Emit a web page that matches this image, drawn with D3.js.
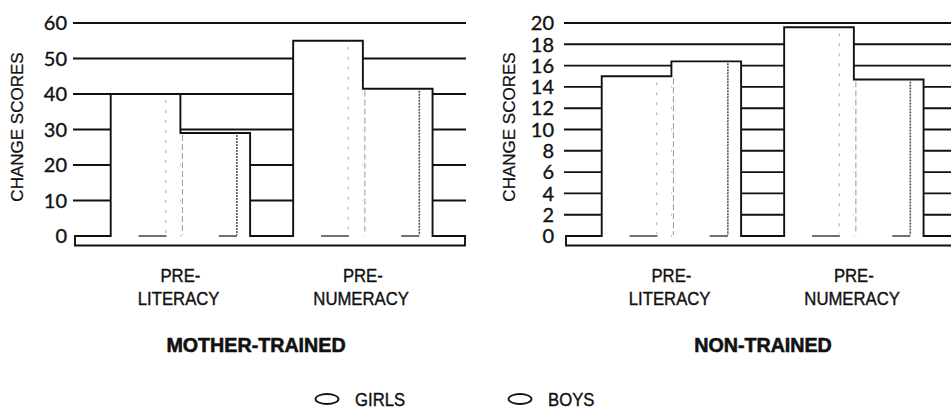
<!DOCTYPE html>
<html>
<head>
<meta charset="utf-8">
<script src="https://cdn.jsdelivr.net/npm/d3@7"></script>
<style>
  body { margin: 0; background: #fff; }
  svg { display: block; }
  .tick-label { font-family: 'Lato', 'Liberation Sans', sans-serif; font-size: 20px; fill: #111; stroke: #111; stroke-width: 0.35; }
  .y-title { font-family: 'Liberation Sans', Arial, sans-serif; font-size: 17px; fill: #111; stroke: #111; stroke-width: 0.25; }
  .cat-label { font-family: 'Liberation Sans', Arial, sans-serif; font-size: 19px; fill: #111; stroke: #111; stroke-width: 0.4; }
  .panel-title { font-family: 'Liberation Sans', Arial, sans-serif; font-size: 20.5px; font-weight: bold; fill: #111; stroke: #111; stroke-width: 0.6; }
  .legend-label { font-family: 'Liberation Sans', Arial, sans-serif; font-size: 19px; fill: #111; stroke: #111; stroke-width: 0.4; }
</style>
</head>
<body>
<script>
'use strict';

// data
var groups = ['PRE-LITERACY', 'PRE-NUMERACY'],
	groupLines = [['PRE-', 'LITERACY'], ['PRE-', 'NUMERACY']],
	sexes = ['GIRLS', 'BOYS'],

	motherGirls = [40, 55],
	motherBoys = [29, 41.5],
	nonGirls = [15, 19.6],
	nonBoys = [16.4, 14.7],

	motherTicks = [0, 10, 20, 30, 40, 50, 60],
	nonTicks = [0, 2, 4, 6, 8, 10, 12, 14, 16, 18, 20],

	panelTitles = ['MOTHER-TRAINED', 'NON-TRAINED'],
	yTitle = 'CHANGE SCORES';

var W = 951, H = 410,
	panelWidth = 393,
	yRange = [236, 23],
	squeeze = 0.88;   // the print uses a condensed face

var svg = d3.select('body').append('svg')
	.attr('width', W)
	.attr('height', H);

var panels = [
	{left: 73, girls: motherGirls, boys: motherBoys, ticks: motherTicks,
		title: panelTitles[0], titleX: 256, yTitleX: 17, labelRight: 67},
	{left: 564, girls: nonGirls, boys: nonBoys, ticks: nonTicks,
		title: panelTitles[1], titleX: 763, yTitleX: 509, labelRight: 554}
];

panels.forEach(drawPanel);
drawLegend();

/*
* Draws one panel: grid, platform, cylinder-like bars and labels.
*/
function drawPanel(p) {
	var g = svg.append('g').attr('transform', 'translate(' + p.left + ',0)');

	var x = d3.scaleBand()
		.domain(groups)
		.range([0, panelWidth])
		.paddingInner(0.236)
		.paddingOuter(0.195)
		.align(0.53);

	var xs = d3.scaleBand()
		.domain(sexes)
		.range([0, x.bandwidth()]);

	var y = d3.scaleLinear()
		.domain([0, d3.max(p.ticks)])
		.range(yRange);

	// grid lines behind the bars
	g.selectAll('.grid')
		.data(p.ticks.filter(function(d) { return d > 0; }))
		.enter().append('line')
			.attr('x1', 0)
			.attr('x2', panelWidth)
			.attr('y1', function(d) { return y(d); })
			.attr('y2', function(d) { return y(d); })
			.attr('stroke', '#111')
			.attr('stroke-width', 1.9);

	// the platform the bars stand on
	g.append('path')
		.attr('d', 'M2,' + y(0) + 'H' + (panelWidth - 1) + 'V' + (y(0) + 9.5) + 'H2Z')
		.attr('fill', '#fff')
		.attr('stroke', '#111')
		.attr('stroke-width', 1.9);

	// tick labels, right aligned
	svg.append('g').selectAll('text')
		.data(p.ticks)
		.enter().append('text')
			.attr('class', 'tick-label')
			.attr('x', p.labelRight)
			.attr('y', function(d) { return y(d); })
			.attr('dy', '0.36em')
			.attr('text-anchor', 'end')
			.text(function(d) { return d; });

	svg.append('text')
		.attr('class', 'y-title')
		.attr('transform', 'translate(' + p.yTitleX + ',127) rotate(-90)')
		.attr('text-anchor', 'middle')
		.attr('dy', '0.36em')
		.text(yTitle);

	groups.forEach(function(grp, i) {
		var x0 = x(grp),
			bw = xs.bandwidth(),
			vals = [p.girls[i], p.boys[i]],
			base = y(0);

		// white bodies hide the grid
		sexes.forEach(function(s, j) {
			g.append('rect')
				.attr('x', x0 + xs(s))
				.attr('y', y(vals[j]))
				.attr('width', bw)
				.attr('height', base - y(vals[j]) + 1.5)
				.attr('fill', '#fff');
		});

		var xg = x0 + xs('GIRLS'),
			xb = x0 + xs('BOYS');

		// faint shading inside girls bar
		g.append('line')
			.attr('x1', xg + bw * 0.79).attr('x2', xg + bw * 0.79)
			.attr('y1', y(vals[0]) + 6).attr('y2', base - 2)
			.attr('stroke', '#aaa')
			.attr('stroke-width', 1)
			.attr('stroke-dasharray', '3,7');

		// thin left side of boys bar
		g.append('line')
			.attr('x1', xb + 2).attr('x2', xb + 2)
			.attr('y1', Math.max(y(vals[0]), y(vals[1])) + 2).attr('y2', base - 1)
			.attr('stroke', '#999')
			.attr('stroke-width', 1)
			.attr('stroke-dasharray', '6,3');

		// darker rough shading inside boys bar
		g.append('line')
			.attr('x1', xb + bw * 0.81).attr('x2', xb + bw * 0.81)
			.attr('y1', y(vals[1]) + 2).attr('y2', base - 1)
			.attr('stroke', '#555')
			.attr('stroke-width', 1.6)
			.attr('stroke-dasharray', '2,1');

		// short dark lines at the foot of each bar
		g.append('line')
			.attr('x1', xg + bw * 0.4).attr('x2', xg + bw * 0.8)
			.attr('y1', base).attr('y2', base)
			.attr('stroke', '#333').attr('stroke-width', 1.4);
		g.append('line')
			.attr('x1', xb + bw * 0.55).attr('x2', xb + bw * 0.81)
			.attr('y1', base).attr('y2', base)
			.attr('stroke', '#333').attr('stroke-width', 1.4);

		// outline of the pair
		var outline = d3.path();
		outline.moveTo(xg, base + 1);
		outline.lineTo(xg, y(vals[0]));
		outline.lineTo(xb, y(vals[0]));
		outline.lineTo(xb, y(vals[1]));
		outline.lineTo(xb + bw, y(vals[1]));
		outline.lineTo(xb + bw, base + 1);
		g.append('path')
			.attr('d', outline.toString())
			.attr('fill', 'none')
			.attr('stroke', '#111')
			.attr('stroke-width', 1.9);

		// category label under the group
		var lab = g.append('text')
			.attr('class', 'cat-label')
			.attr('text-anchor', 'middle')
			.attr('transform', 'translate(' + (x0 + x.bandwidth() / 2) + ',282) scale(' + squeeze + ',1)');
		lab.append('tspan')
			.attr('x', 0)
			.attr('y', 0)
			.text(groupLines[i][0]);
		lab.append('tspan')
			.attr('x', -2)
			.attr('y', 23)
			.text(groupLines[i][1]);
	});

	svg.append('text')
		.attr('class', 'panel-title')
		.attr('text-anchor', 'middle')
		.attr('transform', 'translate(' + p.titleX + ',352) scale(0.96,1)')
		.text(p.title);
}

/*
* Legend with the cylinder tops.
*/
function drawLegend() {
	var legend = svg.selectAll('.legend')
		.data(sexes)
		.enter().append('g')
		.attr('class', 'legend')
		.attr('transform', function(d, i) {
			return 'translate(' + (327 + i * 193) + ',399)';
		});

	legend.append('ellipse')
		.attr('rx', 11.5)
		.attr('ry', 5)
		.attr('fill', '#fff')
		.attr('stroke', '#111')
		.attr('stroke-width', 1.8);

	legend.append('text')
		.attr('class', 'legend-label')
		.attr('transform', 'translate(28,7) scale(' + squeeze + ',1)')
		.text(function(d) { return d; });
}
</script>
</body>
</html>
